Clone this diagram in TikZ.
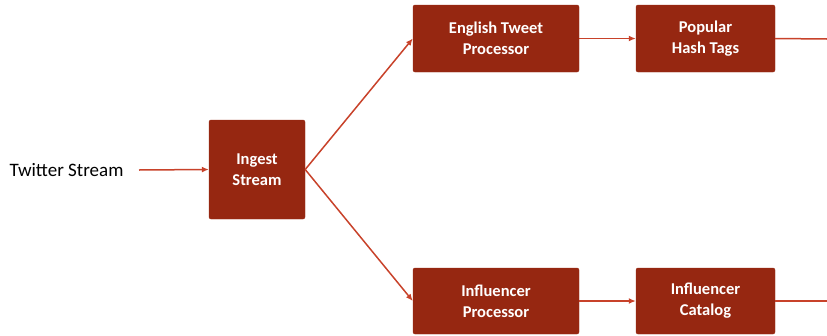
\documentclass[tikz,border=0pt]{standalone}
\usepackage{fontspec}
\setmainfont{Carlito}
\usetikzlibrary{arrows.meta}
\definecolor{boxred}{HTML}{962711}
\definecolor{linered}{HTML}{C8422A}
\begin{document}
\begin{tikzpicture}[x=1pt,y=-1pt,
  blk/.style={fill=boxred, draw=boxred, rounded corners=2pt, text=white, font=\bfseries\fontsize{16.5}{21}\selectfont, align=center, inner sep=0pt},
  conn/.style={draw=linered, line width=1.5pt, -{Latex[length=7pt,width=6pt]}},
  plain/.style={draw=linered, line width=1.5pt}]
\useasboundingbox (0,0) rectangle (827,335);
\node[font=\fontsize{19}{23}\selectfont, anchor=center] (tw) at (66.5,170) {Twitter Stream};
\coordinate (twr) at (139,170);
\node[blk, minimum width=96pt, minimum height=99pt] (ing) at (257,169.5) {Ingest\\Stream};
\node[blk, minimum width=166pt, minimum height=67pt] (etp) at (496,38.5) {English Tweet\\Processor};
\node[blk, minimum width=139pt, minimum height=67pt] (pht) at (705.5,38.5) {Popular\\Hash Tags};
\node[blk, minimum width=166pt, minimum height=66pt] (inp) at (496,301) {Influencer\\Processor};
\node[blk, minimum width=139pt, minimum height=66pt] (inc) at (705.5,301) {Influencer\\Catalog};
\coordinate (e1) at (827,39);
\coordinate (e2) at (827,301);
\draw[conn] (twr) -- (ing.west);
\draw[conn] (ing.east) -- (etp.west);
\draw[conn] (ing.east) -- (inp.west);
\draw[conn] (etp.east) -- (pht.west);
\draw[conn] (inp.east) -- (inc.west);
\draw[plain] (pht.east) -- (e1);
\draw[plain] (inc.east) -- (e2);
\end{tikzpicture}
\end{document}
